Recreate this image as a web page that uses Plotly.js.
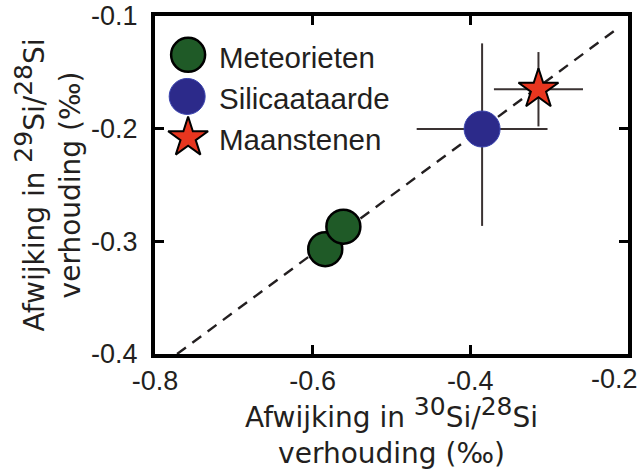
<!DOCTYPE html>
<html>
<head>
<meta charset="utf-8">
<script src="https://cdn.plot.ly/plotly-3.0.1.min.js"></script>
<style>
  html, body { margin: 0; padding: 0; background: #ffffff; }
  #chart { width: 642px; height: 470px; }
</style>
</head>
<body>
<div id="chart"></div>
<script>
// ---- data ----
const seriesNames = ["Meteorieten", "Silicaataarde", "Maanstenen"];

const meteoX = [-0.584, -0.561];
const meteoY = [-0.307, -0.287];

const silicaX = [-0.385];
const silicaY = [-0.2003];
const silicaErrX = [0.083];
const silicaErrYPlus = [0.076];
const silicaErrYMinus = [0.086];

const maanX = [-0.3135];
const maanY = [-0.165];
const maanErrX = [0.0565];
const maanErrY = [0.033];

const trendX = [-0.772, -0.215];
const trendY = [-0.4, -0.112];

const xTickVals = [-0.8, -0.6, -0.4, -0.2];
const xTickText = ["-0.8", "-0.6", "-0.4", "-0.2"];
const yTickVals = [-0.4, -0.3, -0.2, -0.1];
const yTickText = ["-0.4", "-0.3", "-0.2", "-0.1"];

// ---- styles ----
const greenFill = "#1f5a27";
const blueFill = "#2c2a8a";
const redFill = "#e8361f";
const inkColor = "#231f20";
const errColor = "#3a3232";

const traces = [
  {
    x: trendX, y: trendY, mode: "lines", showlegend: false, hoverinfo: "skip",
    line: { color: inkColor, width: 2.4, dash: "11px,8px" }
  },
  {
    name: seriesNames[0], x: meteoX, y: meteoY, mode: "markers", showlegend: false,
    marker: { symbol: "circle", size: 34, color: greenFill, line: { color: "#000000", width: 2.5 } }
  },
  {
    name: seriesNames[1], x: silicaX, y: silicaY, mode: "markers", showlegend: false,
    error_x: { type: "data", array: silicaErrX, visible: true, width: 0, thickness: 2, color: errColor },
    error_y: { type: "data", symmetric: false, array: silicaErrYPlus, arrayminus: silicaErrYMinus,
               visible: true, width: 0, thickness: 2, color: errColor },
    marker: { symbol: "circle", size: 36, color: blueFill, line: { color: "#3b45b0", width: 1 } }
  },
  {
    name: seriesNames[2], x: maanX, y: maanY, mode: "markers", showlegend: false,
    error_x: { type: "data", array: maanErrX, visible: true, width: 0, thickness: 2, color: errColor },
    error_y: { type: "data", array: maanErrY, visible: true, width: 0, thickness: 2, color: errColor },
    marker: { symbol: "star", size: 30, color: redFill, line: { color: "#000000", width: 2 } }
  },
  // ---- custom legend symbols (paper-like overlay axes) ----
  {
    x: [0.07], y: [0.885], xaxis: "x2", yaxis: "y2", mode: "markers", showlegend: false, hoverinfo: "skip",
    marker: { symbol: "circle", size: 34, color: greenFill, line: { color: "#000000", width: 2.5 } },
    cliponaxis: false
  },
  {
    x: [0.068], y: [0.762], xaxis: "x2", yaxis: "y2", mode: "markers", showlegend: false, hoverinfo: "skip",
    marker: { symbol: "circle", size: 36, color: blueFill, line: { color: "#3b45b0", width: 1 } },
    cliponaxis: false
  },
  {
    x: [0.07], y: [0.64], xaxis: "x2", yaxis: "y2", mode: "markers", showlegend: false, hoverinfo: "skip",
    marker: { symbol: "star", size: 30, color: redFill, line: { color: "#000000", width: 2 } },
    cliponaxis: false
  }
];

const tickFont = { family: "Liberation Sans, Arial, sans-serif", size: 27, color: inkColor };
const titleFont = { family: "DejaVu Sans, Verdana, sans-serif", size: 28, color: inkColor };
const legendFont = { family: "Liberation Sans, Arial, sans-serif", size: 29.5, color: inkColor };

const supStyle = (t) => "<sup><span style=\"font-size:25px\">" + t + "</span></sup>";

// the last x tick label sits at the page edge; it is drawn as an annotation nudged inward
const lastXIdx = xTickVals.length - 1;
const xTickTextShown = xTickText.map((t, i) => (i === lastXIdx ? "" : t));

const layout = {
  width: 642, height: 470,
  margin: { l: 155, r: 14, t: 16, b: 116 },
  paper_bgcolor: "#ffffff", plot_bgcolor: "#ffffff",
  showlegend: false,
  xaxis: {
    range: [-0.8, -0.1999], tickvals: xTickVals, ticktext: xTickTextShown,
    showgrid: false, zeroline: false,
    showline: true, linecolor: "#000000", linewidth: 4, mirror: "ticks",
    ticks: "inside", ticklen: 9, tickwidth: 3, tickcolor: "#000000",
    tickfont: tickFont, ticklabelstandoff: 0,
    title: { text: "Afwijking in " + supStyle("30") + "Si/" + supStyle("28") + "Si<br>verhouding (‰)",
             font: titleFont, standoff: 6 }
  },
  yaxis: {
    range: [-0.4, -0.1], tickvals: yTickVals, ticktext: yTickText,
    showgrid: false, zeroline: false,
    showline: true, linecolor: "#000000", linewidth: 4, mirror: "ticks",
    ticks: "inside", ticklen: 9, tickwidth: 3, tickcolor: "#000000",
    tickfont: tickFont, ticklabelstandoff: 8, ticklabeloverflow: "allow",
    title: { text: "Afwijking in " + supStyle("29") + "Si/" + supStyle("28") + "Si<br>verhouding (‰)",
             font: titleFont, standoff: 3 }
  },
  xaxis2: { overlaying: "x", range: [0, 1], visible: false, fixedrange: true },
  yaxis2: { overlaying: "y", range: [0, 1], visible: false, fixedrange: true },
  annotations: [
    { xref: "paper", yref: "paper", x: 0.131, y: 0.878, xanchor: "left", yanchor: "middle",
      text: seriesNames[0], showarrow: false, font: legendFont },
    { xref: "paper", yref: "paper", x: 0.131, y: 0.755, xanchor: "left", yanchor: "middle",
      text: seriesNames[1], showarrow: false, font: legendFont },
    { xref: "paper", yref: "paper", x: 0.131, y: 0.635, xanchor: "left", yanchor: "middle",
      text: seriesNames[2], showarrow: false, font: legendFont },
    { xref: "x", yref: "paper", x: xTickVals[lastXIdx], y: -0.074, xanchor: "right", yanchor: "middle",
      xshift: 12, text: xTickText[lastXIdx], showarrow: false, font: tickFont }
  ]
};

Plotly.newPlot("chart", traces, layout, { displayModeBar: false, staticPlot: true });
</script>
</body>
</html>
